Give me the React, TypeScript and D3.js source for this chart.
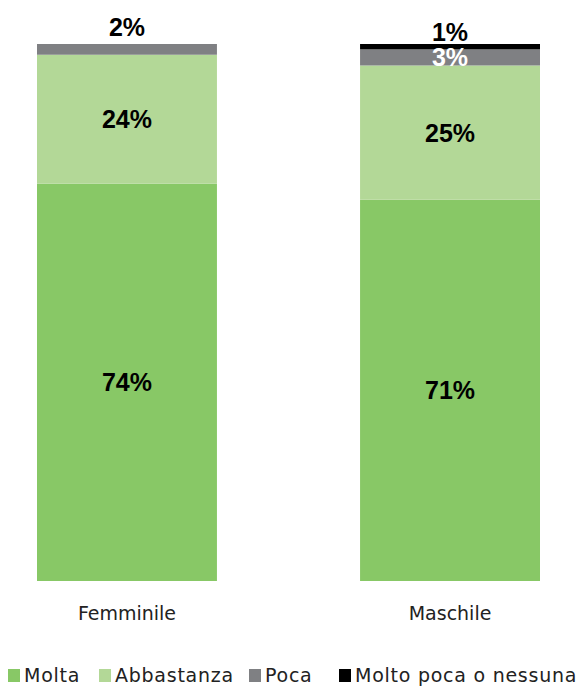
import React, { useRef, useEffect } from 'react'
import * as d3 from 'd3'

const categories = ['Femminile', 'Maschile']
const seriesNames = ['Molta', 'Abbastanza', 'Poca', 'Molto poca o nessuna']
const molta = [74, 71]
const abbastanza = [24, 25]
const poca = [2, 3]
const moltoPoca = [0, 1]

const colors = ['#88c866', '#b3d897', '#7f8083', '#000000']
const labelColors = ['#000', '#000', '#fff', '#000']

const W = 576
const H = 686

const App = () => {
  const svgRef = useRef<SVGSVGElement>(null)

  useEffect(() => {
    const svg = d3.select(svgRef.current)
    svg.selectAll('*').remove()

    const rows = categories.map((c, i) => ({
      cat: c,
      Molta: molta[i],
      Abbastanza: abbastanza[i],
      Poca: poca[i],
      'Molto poca o nessuna': moltoPoca[i],
    }))

    const stacked = d3.stack<any>().keys(seriesNames)(rows)

    const x = d3.scaleBand().domain(categories).range([37, 540]).paddingInner(0.443).paddingOuter(0)
    const y = d3.scaleLinear().domain([0, 100]).range([581, 44])
    const font = '"DejaVu Sans", sans-serif'
    const boldFont = '"Liberation Sans", Arial, sans-serif'

    const layers = svg.selectAll('g.layer')
      .data(stacked)
      .join('g')
      .attr('class', 'layer')
      .attr('fill', (d, i) => colors[i])

    layers.selectAll('rect')
      .data(d => d)
      .join('rect')
      .attr('x', d => x(d.data.cat)!)
      .attr('width', x.bandwidth())
      .attr('y', d => y(d[1]))
      .attr('height', d => y(d[0]) - y(d[1]))

    // value labels
    stacked.forEach((layer, si) => {
      layer.forEach(d => {
        const v = d[1] - d[0]
        if (v <= 0) return
        let ly = (y(d[0]) + y(d[1])) / 2
        let col = labelColors[si]
        // small top segments: label above the bar
        if (si === 2 && d.data.cat === 'Femminile') { ly = y(100) - 17; col = '#000' }
        if (si === 3) { ly = y(100) - 12 }
        svg.append('text')
          .attr('x', x(d.data.cat)! + x.bandwidth() / 2)
          .attr('y', ly)
          .attr('dy', '0.36em')
          .attr('text-anchor', 'middle')
          .attr('font-family', boldFont)
          .attr('font-weight', 'bold')
          .attr('font-size', 25)
          .attr('fill', col)
          .text(`${v}%`)
      })
    })

    // category axis labels
    const axis = d3.axisBottom(x).tickSize(0).tickPadding(26)
    const ax = svg.append('g').attr('transform', `translate(0,${y(0)})`).call(axis)
    ax.select('.domain').remove()
    ax.selectAll('text')
      .attr('font-family', font)
      .attr('font-size', 19)
      .attr('fill', '#222')

    // legend
    const legendX = [8, 99, 249, 339]
    const lg = svg.append('g').attr('transform', 'translate(0,682)')
    seriesNames.forEach((s, i) => {
      lg.append('rect')
        .attr('x', legendX[i])
        .attr('y', -13)
        .attr('width', 12)
        .attr('height', 13)
        .attr('fill', colors[i])
      lg.append('text')
        .attr('x', legendX[i] + 16)
        .attr('y', 0)
        .attr('font-family', font)
        .attr('font-size', 19)
        .attr('letter-spacing', 0.75)
        .attr('fill', '#222')
        .text(s)
    })
  }, [])

  return (
    <svg ref={svgRef} width={W} height={H}
      style={{ position: 'absolute', left: 0, top: 0, background: '#fff' }} />
  )
}

export default App
